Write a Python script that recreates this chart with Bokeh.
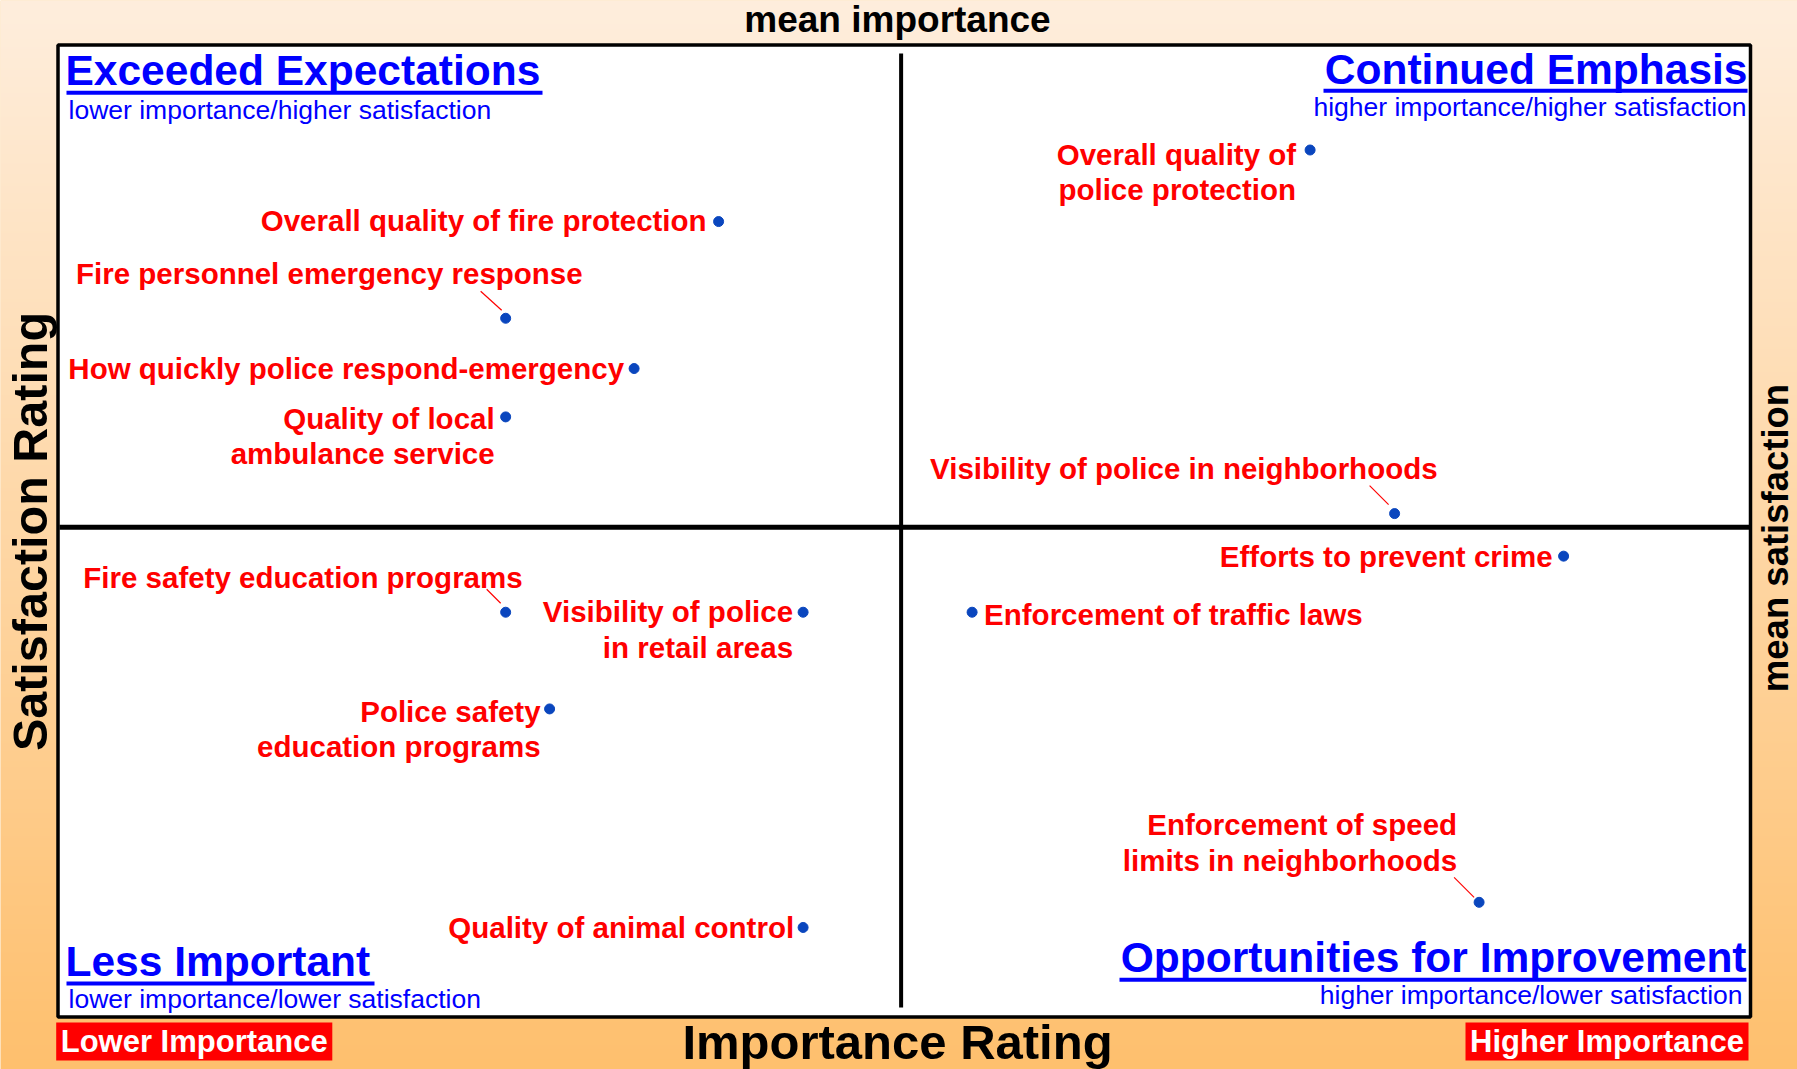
import math
import numpy as np
from bokeh.plotting import figure
from bokeh.models import Range1d, ColumnDataSource
from bokeh.core.properties import value
from bokeh.embed import file_html
from bokeh.resources import INLINE

# ---------------- data ----------------
items = [
    "Overall quality of fire protection",
    "Fire personnel emergency response",
    "How quickly police respond-emergency",
    "Quality of local\nambulance service",
    "Overall quality of\npolice protection",
    "Visibility of police in neighborhoods",
    "Efforts to prevent crime",
    "Enforcement of traffic laws",
    "Enforcement of speed\nlimits in neighborhoods",
    "Fire safety education programs",
    "Visibility of police\nin retail areas",
    "Police safety\neducation programs",
    "Quality of animal control",
]
importance = [19.5, 13.2, 17.0, 13.2, 37.0, 39.5, 44.5, 27.0, 42.0, 13.2, 22.0, 14.5, 22.0]
satisfaction = [91.0, 86.0, 83.4, 80.9, 94.7, 75.9, 73.7, 70.8, 55.8, 70.8, 70.8, 65.8, 54.5]
mean_importance = 24.9
mean_satisfaction = 75.2

quadrant_titles = ["Exceeded Expectations", "Continued Emphasis", "Less Important", "Opportunities for Improvement"]
quadrant_subtitles = ["lower importance/higher satisfaction", "higher importance/higher satisfaction",
                      "lower importance/lower satisfaction", "higher importance/lower satisfaction"]

# ---------------- layout (pixels) ----------------
W, H = 1797, 1069
IMP_LO, IMP_HI = 0.0, 50.0
SAT_LO, SAT_HI = 50.0, 100.0
BX0, BX1 = 59, 1749
BY0, BY1 = 47, 1014
kx = (BX1 - BX0) / (IMP_HI - IMP_LO)
ky = (BY1 - BY0) / (SAT_HI - SAT_LO)
MID = 0.3465  # distance baseline -> 'middle' anchor, in font sizes


def X(px):
    return IMP_LO + (px - BX0) / kx


def Y(py):
    return SAT_HI - (py - BY0) / ky


FONT = "Liberation Sans"
RED = "#FF0000"
BLUE = "#0000FF"
DOT = "#0a46be"

p = figure(width=W, height=H, x_range=Range1d(X(0), X(W)), y_range=Range1d(Y(H), Y(0)),
           toolbar_location=None, output_backend="svg", min_border=0,
           x_axis_location=None, y_axis_location=None)
p.outline_line_color = None
p.grid.visible = False
p.background_fill_color = "#FFD9A5"
p.border_fill_color = "#FFD9A5"

# background gradient
top = np.array([254, 238, 221], dtype=float)
bot = np.array([255, 192, 110], dtype=float)
t = np.linspace(0, 1, H)[:, None]  # row 0 = bottom
cols = bot * (1 - t) + top * t
img = np.empty((H, 1), dtype=np.uint32)
view = img.view(dtype=np.uint8).reshape((H, 1, 4))
view[:, 0, 0] = cols[:, 0]
view[:, 0, 1] = cols[:, 1]
view[:, 0, 2] = cols[:, 2]
view[:, 0, 3] = 255
p.image_rgba(image=[img], x=X(0), y=Y(H), dw=X(W) - X(0), dh=Y(0) - Y(H))

# white plot box with black border
p.quad(left=[X(57.5)], right=[X(1750)], top=[Y(44.5)], bottom=[Y(1016.5)],
       fill_color="white", line_color="black", line_width=3.5)

# mean lines
p.segment(x0=[mean_importance], x1=[mean_importance], y0=[Y(53)], y1=[Y(1007)],
          line_color="black", line_width=4)
p.segment(x0=[X(59)], x1=[X(1749)], y0=[mean_satisfaction], y1=[mean_satisfaction],
          line_color="black", line_width=5)

# labels
lab_align = ["right", "right", "right", "right", "right", "right", "right", "left",
             "right", "right", "right", "right", "right"]
lab_dx = [-12, 77, -10, -11, -14, 43, -11, 12, -22, 17, -10, -9, -9]
lab_dy = [-1, -45, 0, 19, 22, -45, 0, 2, -60, -35, 17, 20, 0]

src = ColumnDataSource(dict(
    x=[imp + dx / kx for imp, dx in zip(importance, lab_dx)],
    y=[sat - dy / ky for sat, dy in zip(satisfaction, lab_dy)],
    text=items, align=lab_align))
p.text(x="x", y="y", text="text", text_align="align", source=src, text_baseline="middle",
       text_font=value(FONT), text_font_size=value("29.5px"), text_font_style="bold",
       text_color=RED, text_line_height=1.08)

# leader lines
lead_idx = [1, 5, 8, 9]
lead = [(-25, -27, -4, -8), (-25, -28, -6, -9), (-25, -25, -5, -5), (-19, -23, -5, -9)]
p.segment(x0=[importance[i] + l[0] / kx for i, l in zip(lead_idx, lead)],
          y0=[satisfaction[i] - l[1] / ky for i, l in zip(lead_idx, lead)],
          x1=[importance[i] + l[2] / kx for i, l in zip(lead_idx, lead)],
          y1=[satisfaction[i] - l[3] / ky for i, l in zip(lead_idx, lead)],
          line_color=RED, line_width=1.2)

# dots
p.scatter(x=importance, y=satisfaction, size=10, fill_color=DOT, line_color=DOT)


def txt(s, xr, yr, size, color, align="left", style="bold", angle=0.0):
    """Place text whose alphabetic baseline is at page pixel (xr, yr)."""
    if angle:
        xr = xr - MID * size
    else:
        yr = yr - MID * size
    p.text(x=[X(xr)], y=[Y(yr)], text=[s], text_font=value(FONT),
           text_font_size=value(f"{size}px"), text_font_style=style, text_color=color,
           text_align=align, text_baseline="middle", angle=angle)


# quadrant titles + underlines
title_pos = [(65, 84.4, "left"), (1747, 83.7, "right"), (65, 975.6, "left"), (1746, 971.5, "right")]
ul_pos = [(66, 542, 92.3), (1323, 1747, 90.3), (66, 374, 982.9), (1119, 1746, 979.2)]
sub_pos = [(68, 118.5, "left"), (1746, 115.5, "right"), (68, 1008, "left"), (1742, 1003.5, "right")]
for s, (xr, yr, al) in zip(quadrant_titles, title_pos):
    txt(s, xr, yr, 42.5, BLUE, align=al)
for a, b, yy in ul_pos:
    p.quad(left=[X(a)], right=[X(b)], top=[Y(yy - 2)], bottom=[Y(yy + 2)],
           fill_color=BLUE, line_color=None)
for s, (xr, yr, al) in zip(quadrant_subtitles, sub_pos):
    txt(s, xr, yr, 26.5, BLUE, align=al, style="normal")

# axis titles
txt("mean importance", 897, 32, 37, "black", align="center")
txt("Importance Rating", 897, 1058, 49, "black", align="center")
txt("Satisfaction Rating", 46, 531, 48.5, "black", align="center", angle=math.pi / 2)
txt("mean satisfaction", 1788, 537.5, 36.5, "black", align="center", angle=math.pi / 2)

# red end boxes
p.quad(left=[X(55.7), X(1465)], right=[X(331.8), X(1748)], top=[Y(1022)] * 2,
       bottom=[Y(1060)] * 2, fill_color=RED, line_color=None)
txt("Lower Importance", 193.7, 1051.5, 31, "white", align="center")
txt("Higher Importance", 1606.5, 1051.5, 31, "white", align="center")

open("out.html", "w").write(file_html(p, INLINE))
